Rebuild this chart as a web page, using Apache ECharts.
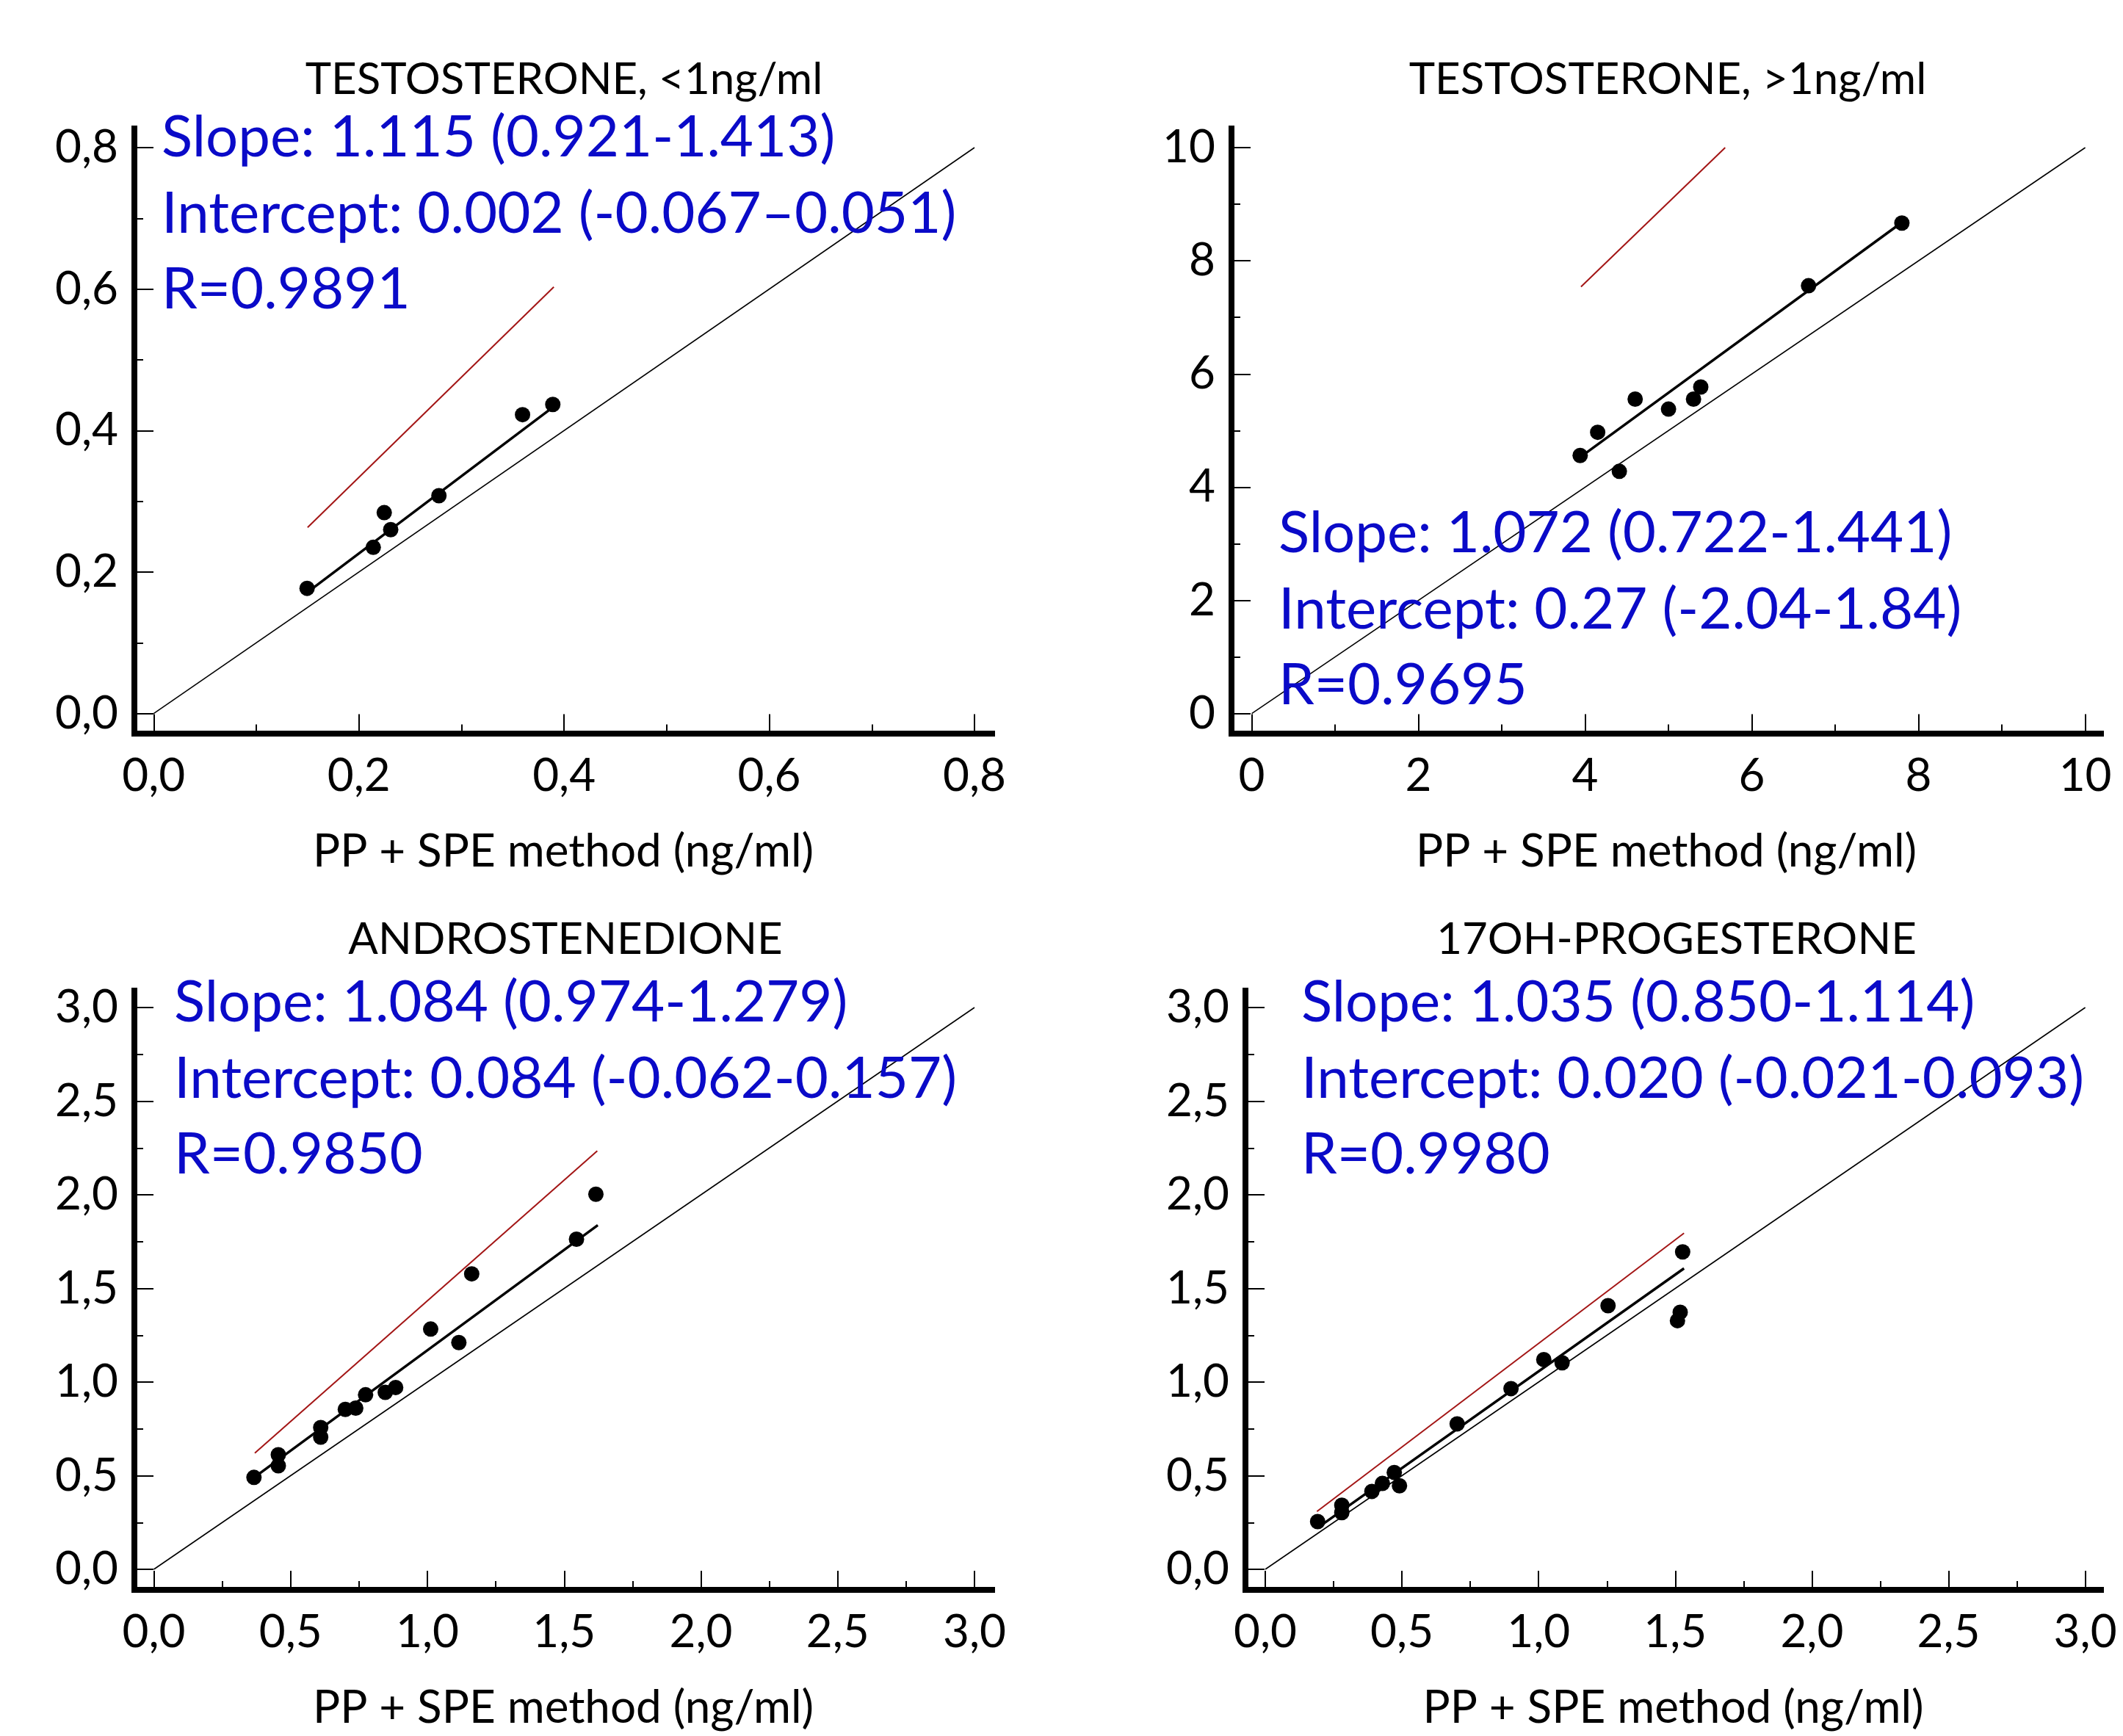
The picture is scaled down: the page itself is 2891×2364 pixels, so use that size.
<!DOCTYPE html>
<html>
<head>
<meta charset="utf-8">
<script src="https://cdn.jsdelivr.net/npm/echarts@6/dist/echarts.min.js"></script>
<style>
  html, body { margin: 0; background: #fff; }
  #chart { width: 2891px; height: 2364px; }
</style>
</head>
<body>
<div id="chart"></div>
<script>
// Panel texts
const panelTitles = ['TESTOSTERONE, <1ng/ml', 'TESTOSTERONE, >1ng/ml', 'ANDROSTENEDIONE', '17OH-PROGESTERONE'];
const statLines = [
  ['Slope: 1.115 (0.921-1.413)', 'Intercept: 0.002 (-0.067\u20130.051)', 'R=0.9891'],
  ['Slope: 1.072 (0.722-1.441)', 'Intercept: 0.27 (-2.04-1.84)', 'R=0.9695'],
  ['Slope: 1.084 (0.974-1.279)', 'Intercept: 0.084 (-0.062-0.157)', 'R=0.9850'],
  ['Slope: 1.035 (0.850-1.114)', 'Intercept: 0.020 (-0.021-0.093)', 'R=0.9980']
];
const xAxisName = 'PP + SPE method (ng/ml)';

// Measured points [x, y]
const testoLow = [[0.1495, 0.177], [0.214, 0.235], [0.2247, 0.284], [0.231, 0.260], [0.278, 0.308], [0.3595, 0.4225], [0.389, 0.437]];
const testoHigh = [[3.94, 4.56], [4.15, 4.97], [4.60, 5.556], [4.41, 4.28], [5.00, 5.38], [5.30, 5.556], [5.387, 5.77], [6.68, 7.56], [7.80, 8.667]];
const androstenedione = [[0.366, 0.491], [0.455, 0.612], [0.455, 0.553], [0.61, 0.757], [0.61, 0.706], [0.70, 0.854], [0.738, 0.861], [0.774, 0.932], [0.846, 0.945], [0.884, 0.971], [1.012, 1.283], [1.115, 1.211], [1.162, 1.578], [1.545, 1.763], [1.616, 2.003]];
const ohProgesterone = [[0.1915, 0.255], [0.28, 0.342], [0.28, 0.303], [0.39, 0.416], [0.4285, 0.4585], [0.472, 0.517], [0.491, 0.446], [0.702, 0.777], [0.899, 0.965], [1.019, 1.12], [1.086, 1.103], [1.254, 1.408], [1.527, 1.695], [1.518, 1.373], [1.508, 1.328]];
const points = [testoLow, testoHigh, androstenedione, ohProgesterone];

// Line end points [x, y]
const fitLines = [
  [[0.1495, 0.171], [0.389, 0.433]],
  [[3.94, 4.53], [7.81, 8.69]],
  [[0.366, 0.49], [1.623, 1.838]],
  [[0.19, 0.22], [1.532, 1.607]]
];
const redLines = [
  [[0.150, 0.263], [0.390, 0.603]],
  [[3.95, 7.54], [5.68, 10.0]],
  [[0.369, 0.621], [1.621, 2.234]],
  [[0.189, 0.309], [1.532, 1.795]]
];
const identityLines = [
  [[0, 0], [0.8, 0.8]],
  [[0, 0], [10, 10]],
  [[0, 0], [3, 3]],
  [[0, 0], [3, 3]]
];

// Ticks
const majorTicks = [
  [0, 0.2, 0.4, 0.6, 0.8],
  [0, 2, 4, 6, 8, 10],
  [0, 0.5, 1, 1.5, 2, 2.5, 3],
  [0, 0.5, 1, 1.5, 2, 2.5, 3]
];
const minorTicks = [
  [0.1, 0.3, 0.5, 0.7],
  [1, 3, 5, 7, 9],
  [0.25, 0.75, 1.25, 1.75, 2.25, 2.75],
  [0.25, 0.75, 1.25, 1.75, 2.25, 2.75]
];
const decimals = [1, 0, 1, 1];

// Pixel layout of each panel (axis lines, where 0 and max fall)
const layout = [
  { left: 183, right: 1351, top: 175, bottom: 998.5, x0: 209.3, x1: 1327, y0: 971.7, y1: 201, textX: 220, textY: 188, titleX: 768, titleY: 109 },
  { left: 1677, right: 2861, top: 175, bottom: 998.5, x0: 1704.6, x1: 2839.6, y0: 971.7, y1: 201, textX: 1741, textY: 727, titleX: 2271, titleY: 109 },
  { left: 183, right: 1351, top: 1349, bottom: 2171, x0: 209.5, x1: 1327, y0: 2142.8, y1: 1372.2, textX: 237, textY: 1366, titleX: 770, titleY: 1280 },
  { left: 1696, right: 2861, top: 1349, bottom: 2171, x0: 1723, x1: 2839.6, y0: 2142.8, y1: 1372.2, textX: 1772, textY: 1366, titleX: 2283, titleY: 1280 }
];

const FONT = 'Lato';
const BLUE = '#0a0ac8';
const RED = '#a31515';

// value range so that the grid edges sit on the axis lines
function range(p0, p1, vMax, edgeA, edgeB) {
  const k = (p1 - p0) / vMax;
  return [(edgeA - p0) / k, (edgeB - p0) / k];
}

const grids = [], xAxes = [], yAxes = [], series = [], graphics = [];

layout.forEach((L, i) => {
  const vMax = identityLines[i][1][0];
  const xr = range(L.x0, L.x1, vMax, L.left, L.right);
  const yr = range(L.y0, L.y1, vMax, L.bottom, L.top);
  const fmt = v => v.toFixed(decimals[i]).replace('.', ',');

  grids.push({ left: L.left, top: L.top, width: L.right - L.left, height: L.bottom - L.top });

  const labelStyle = { fontFamily: FONT, fontSize: 62, color: '#000', lineHeight: 62 };
  // major axes with line, long ticks and labels
  xAxes.push({
    gridIndex: i, type: 'value', position: 'bottom', min: xr[0], max: xr[1],
    axisLine: { show: true, onZero: false, lineStyle: { color: '#000', width: 8, cap: 'square' } },
    axisTick: { show: true, inside: true, length: 26, customValues: majorTicks[i], lineStyle: { color: '#000', width: 2 } },
    axisLabel: { show: true, margin: 27, customValues: majorTicks[i], formatter: fmt, ...labelStyle },
    splitLine: { show: false },
    name: xAxisName, nameLocation: 'middle', nameGap: 124,
    nameTextStyle: { fontFamily: FONT, fontSize: 62, color: '#000', lineHeight: 74 }
  });
  // minor ticks only
  xAxes.push({
    gridIndex: i, type: 'value', position: 'bottom', min: xr[0], max: xr[1],
    axisLine: { show: false, onZero: false },
    axisTick: { show: true, inside: true, length: 12, customValues: minorTicks[i], lineStyle: { color: '#000', width: 2 } },
    axisLabel: { show: false }, splitLine: { show: false }
  });
  yAxes.push({
    gridIndex: i, type: 'value', position: 'left', min: yr[0], max: yr[1],
    axisLine: { show: true, onZero: false, lineStyle: { color: '#000', width: 8, cap: 'square' } },
    axisTick: { show: true, inside: true, length: 26, customValues: majorTicks[i], lineStyle: { color: '#000', width: 2 } },
    axisLabel: { show: true, margin: 22, customValues: majorTicks[i], formatter: fmt, ...labelStyle },
    splitLine: { show: false }
  });
  yAxes.push({
    gridIndex: i, type: 'value', position: 'left', min: yr[0], max: yr[1],
    axisLine: { show: false, onZero: false },
    axisTick: { show: true, inside: true, length: 12, customValues: minorTicks[i], lineStyle: { color: '#000', width: 2 } },
    axisLabel: { show: false }, splitLine: { show: false }
  });

  const ax = { xAxisIndex: 2 * i, yAxisIndex: 2 * i };
  series.push({ type: 'line', ...ax, data: identityLines[i], symbol: 'none', lineStyle: { color: '#000', width: 1.6 }, z: 2 });
  series.push({ type: 'line', ...ax, data: redLines[i], symbol: 'none', lineStyle: { color: RED, width: 2 }, z: 3 });
  series.push({ type: 'line', ...ax, data: fitLines[i], symbol: 'none', lineStyle: { color: '#000', width: 3.5 }, z: 4 });
  series.push({ type: 'scatter', ...ax, data: points[i], symbol: 'circle', symbolSize: 21, itemStyle: { color: '#000', opacity: 1 }, z: 5 });

  graphics.push({
    type: 'text', x: L.titleX, y: L.titleY,
    style: { text: panelTitles[i], fontFamily: FONT, fontSize: 60, fill: '#000', align: 'center', verticalAlign: 'middle' }
  });
  statLines[i].forEach((t, j) => {
    graphics.push({
      type: 'text', x: L.textX, y: L.textY + j * 103.5, z: 10,
      style: { text: t, fontFamily: FONT, fontSize: 78, fill: BLUE, align: 'left', verticalAlign: 'middle' }
    });
  });
});

const chart = echarts.init(document.getElementById('chart'));
chart.setOption({
  animation: false,
  backgroundColor: '#fff',
  grid: grids,
  xAxis: xAxes,
  yAxis: yAxes,
  series: series,
  graphic: graphics
});
</script>
</body>
</html>
